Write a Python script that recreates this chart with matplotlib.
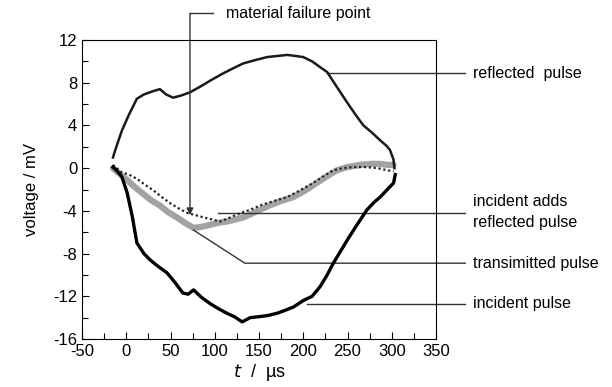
import matplotlib.pyplot as plt

plt.rcParams['font.family'] = ['Liberation Sans', 'DejaVu Sans']
plt.rcParams['axes.unicode_minus'] = False

# values (t in us, voltage in mV)
t_refl = [-15, -12, -5, 3, 12, 20, 30, 38, 45, 53, 62, 72, 85, 95, 110, 122, 132, 145, 159, 170,
          182, 192, 200, 210, 220, 227, 238, 250, 260, 268, 278, 287, 294, 298, 302, 303]
v_refl = [1.0, 1.8, 3.5, 5.0, 6.5, 6.9, 7.2, 7.4, 6.9, 6.6, 6.8, 7.1, 7.7, 8.2, 8.9, 9.4, 9.8, 10.1, 10.4, 10.5,
          10.6, 10.5, 10.4, 10.0, 9.4, 9.0, 7.6, 6.1, 4.9, 4.0, 3.3, 2.6, 2.1, 1.7, 0.8, 0.0]

t_inc = [-15, -10, -5, 1, 7, 12, 20, 27, 36, 46, 55, 64, 70, 76, 85, 95, 105, 114, 122, 131, 140,
         151, 160, 170, 180, 189, 200, 210, 219, 227, 234, 242, 250, 260, 272, 280, 287, 295, 302, 304]
v_inc = [0.1, -0.3, -0.8, -2.3, -4.6, -7.0, -8.0, -8.6, -9.2, -9.8, -10.7, -11.7, -11.8, -11.4, -12.1, -12.7, -13.2, -13.6, -13.9, -14.4, -14.0,
         -13.9, -13.8, -13.6, -13.3, -13.0, -12.4, -12.0, -11.1, -10.0, -8.9, -7.8, -6.7, -5.4, -3.9, -3.2, -2.7, -2.0, -1.4, -0.6]

t_trans = [-15, -8, 1, 10, 19, 28, 38, 47, 57, 66, 76, 85, 95, 105, 114, 124, 133, 146, 159, 174,
           189, 202, 215, 226, 238, 250, 264, 276, 287, 296, 302]
v_trans = [0.0, -0.5, -1.1, -1.8, -2.4, -3.0, -3.5, -4.1, -4.6, -5.1, -5.6, -5.5, -5.3, -5.1, -5.0, -4.8, -4.6, -4.1, -3.6, -3.1,
           -2.7, -2.1, -1.4, -0.8, -0.2, 0.1, 0.3, 0.4, 0.4, 0.3, 0.3]

t_sum = [-15, -5, 3, 12, 22, 31, 40, 50, 60, 69, 78, 87, 97, 106, 118, 129, 140, 151, 166, 182,
         196, 211, 222, 234, 245, 256, 270, 284, 295, 302]
v_sum = [0.3, -0.4, -0.6, -1.0, -1.6, -2.1, -2.7, -3.3, -3.8, -4.2, -4.4, -4.6, -4.8, -5.0, -4.6, -4.2, -3.9, -3.5, -3.1, -2.7,
         -2.1, -1.4, -0.8, -0.2, 0.0, 0.1, 0.1, 0.0, -0.2, -0.3]

fig = plt.figure(figsize=(6.12, 3.87), dpi=100)
ax = fig.add_axes([82 / 612, 48 / 387, 354 / 612, 299 / 387])

ax.plot(t_trans, v_trans, color='#a3a3a3', lw=4.5, solid_capstyle='round', zorder=2)
ax.plot(t_sum, v_sum, color='#222222', lw=1.6, ls=(0, (1, 1.2)), zorder=3)
ax.plot(t_refl, v_refl, color='#1a1a1a', lw=1.8, zorder=3)
ax.plot(t_inc, v_inc, color='black', lw=2.4, zorder=3)

ax.set_xlim(-50, 350)
ax.set_ylim(-16, 12)
ax.set_xticks(range(-50, 351, 50))
ax.set_xticks(range(-50, 351, 25), minor=True)
ax.set_yticks(range(-16, 13, 4))
ax.set_yticks(range(-16, 13, 2), minor=True)
ax.tick_params(which='both', direction='in', top=False, right=False, labelsize=12, width=0.8)
ax.tick_params(which='major', length=5)
ax.tick_params(which='minor', length=4)
for s in ax.spines.values():
    s.set_linewidth(0.8)

ax.set_ylabel('voltage / mV', fontsize=12, labelpad=10)
ax.set_xlabel(r'$\it{t}$  /  µs', fontsize=13, labelpad=2)

# annotations
lc = '#333333'
ax.plot([98, 72], [14.5, 14.5], color=lc, lw=1, clip_on=False)
ax.annotate('', xy=(72, -4.4), xytext=(72, 14.5), annotation_clip=False,
            arrowprops=dict(arrowstyle='-|>', color=lc, lw=1, mutation_scale=10, shrinkA=0, shrinkB=0))
ax.text(113, 14.5, 'material failure point', fontsize=11.5, va='center', ha='left', clip_on=False)

ax.plot([227, 383], [8.9, 8.9], color=lc, lw=1, clip_on=False)
ax.text(392, 8.9, 'reflected  pulse', fontsize=11.5, va='center', clip_on=False)

ax.plot([104, 383], [-4.2, -4.2], color=lc, lw=1, clip_on=False)
ax.text(392, -4.1, 'incident adds\nreflected pulse', fontsize=11.5, va='center', linespacing=1.5, clip_on=False)

ax.plot([76, 134, 383], [-5.8, -8.9, -8.9], color=lc, lw=1, clip_on=False)
ax.text(392, -8.9, 'transimitted pulse', fontsize=11.5, va='center', clip_on=False)

ax.plot([204, 383], [-12.7, -12.7], color=lc, lw=1, clip_on=False)
ax.text(392, -12.7, 'incident pulse', fontsize=11.5, va='center', clip_on=False)

fig.savefig('out.png', dpi=100)
